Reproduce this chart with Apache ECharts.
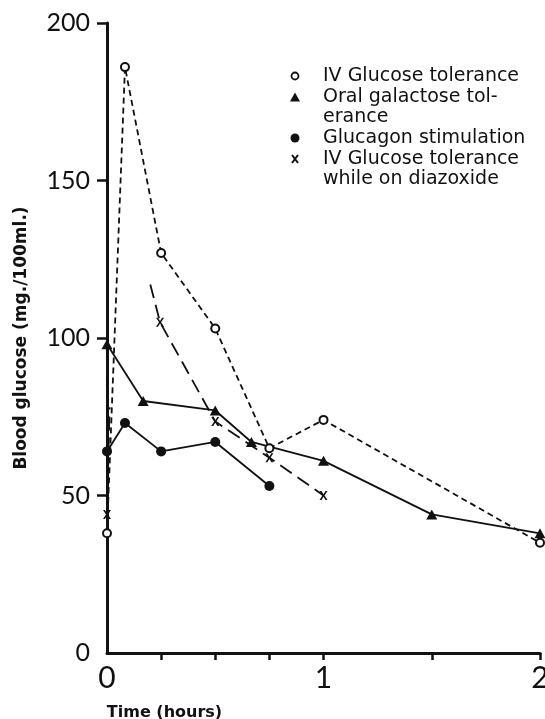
<!DOCTYPE html>
<html>
<head>
<meta charset="utf-8">
<script src="https://cdn.jsdelivr.net/npm/echarts@6/dist/echarts.min.js"></script>
<style>
  html, body { margin: 0; padding: 0; background: #fff; }
  #chart { width: 545px; height: 719px; }
</style>
</head>
<body>
<div id="chart"></div>
<script>
// values (time in hours, blood glucose in mg./100ml.)
var ivHours = [0, 0.083, 0.25, 0.5, 0.75, 1, 2];
var ivGlucose = [38, 186, 127, 103, 65, 74, 35];

var galHours = [0, 0.167, 0.5, 0.667, 1, 1.5, 2];
var galGlucose = [98, 80, 77, 67, 61, 44, 38];

var glucagonHours = [0, 0.083, 0.25, 0.5, 0.75];
var glucagonGlucose = [64, 73, 64, 67, 53];

// diazoxide curve is only partly drawn in the original: two pieces, some ends unmarked
var diazHours = [0, 0.012, 0.2, 0.245, 0.5, 0.75, 1];
var diazGlucose = [44, 78, 117, 105, 73.5, 62, 50];
var diazMarked = [true, false, false, true, true, true, true];
var diazBreakAfter = 1;

var xLabelValues = [0, 1, 2];
var xTickValues = [0.25, 0.5, 0.75, 1, 1.5, 2];
var yLabelValues = [0, 50, 100, 150, 200];
var yTickValues = [50, 100, 150, 200];

var seriesNames = [
    'IV Glucose tolerance',
    'Oral galactose tolerance',
    'Glucagon stimulation',
    'IV Glucose tolerance while on diazoxide'
];
var legendTexts = [
    'IV Glucose tolerance',
    'Oral galactose tol-\nerance',
    'Glucagon stimulation',
    'IV Glucose tolerance\nwhile on diazoxide'
];

var INK = '#111';
var NUM_FONT = 'Lato';
var TXT_FONT = 'DejaVu Sans';
var crossPath = 'path://M0,0L2.4,0L5,3.6L7.6,0L10,0L6.3,5L10,10L7.6,10L5,6.4L2.4,10L0,10L3.7,5Z';

function pairs(xs, ys) {
    return xs.map(function (x, i) { return [x, ys[i]]; });
}

function diazData() {
    var out = [];
    for (var i = 0; i < diazHours.length; i++) {
        var item = { value: [diazHours[i], diazGlucose[i]] };
        if (!diazMarked[i]) item.symbol = 'none';
        out.push(item);
        if (i === diazBreakAfter) out.push({ value: [diazHours[i], '-'] });
    }
    return out;
}

// hand-made key in the top right corner, like the printed figure
var keyX = 295, keyTextX = 323;
var keyRows = [76, 97, 138, 159];
function keyText(idx) {
    return {
        type: 'text',
        x: keyTextX,
        y: keyRows[idx] - 10.5,
        style: {
            text: legendTexts[idx],
            fill: INK,
            font: '19px "' + TXT_FONT + '"',
            lineHeight: 20.5,
            verticalAlign: 'top'
        }
    };
}
var keyGraphics = [
    { type: 'circle', shape: { cx: keyX, cy: keyRows[0], r: 3.5 },
      style: { fill: '#fff', stroke: INK, lineWidth: 1.8 } },
    { type: 'polygon', shape: { points: [[keyX - 5, keyRows[1] + 4.5], [keyX + 5, keyRows[1] + 4.5], [keyX, keyRows[1] - 4.5]] },
      style: { fill: INK } },
    { type: 'circle', shape: { cx: keyX, cy: keyRows[2], r: 4.5 }, style: { fill: INK } },
    { type: 'line', shape: { x1: keyX - 3, y1: keyRows[3] - 4, x2: keyX + 3, y2: keyRows[3] + 4 },
      style: { stroke: INK, lineWidth: 2 } },
    { type: 'line', shape: { x1: keyX + 3, y1: keyRows[3] - 4, x2: keyX - 3, y2: keyRows[3] + 4 },
      style: { stroke: INK, lineWidth: 2 } },
    keyText(0), keyText(1), keyText(2), keyText(3)
];

var myChart = echarts.init(document.getElementById('chart'));

var option = {
    backgroundColor: '#fff',
    animation: false,
    grid: { left: 107, right: 5, top: 23, bottom: 66, outerBoundsMode: 'none' },
    graphic: keyGraphics,
    xAxis: {
        type: 'value',
        min: 0,
        max: 2,
        interval: 0.25,
        name: 'Time (hours)',
        nameLocation: 'middle',
        nameGap: 52,
        nameTextStyle: {
            fontFamily: TXT_FONT,
            fontSize: 16,
            fontWeight: 'bold',
            color: INK,
            padding: [0, 318, 0, 0]
        },
        axisLine: { lineStyle: { color: INK, width: 3 } },
        axisTick: {
            customValues: xTickValues,
            length: 7,
            lineStyle: { color: INK, width: 2.5 }
        },
        axisLabel: {
            customValues: xLabelValues,
            margin: 10,
            fontFamily: NUM_FONT,
            fontSize: 30,
            color: INK
        },
        splitLine: { show: false }
    },
    yAxis: {
        type: 'value',
        min: 0,
        max: 200,
        interval: 50,
        name: 'Blood glucose (mg./100ml.)',
        nameLocation: 'middle',
        nameGap: 77,
        nameTextStyle: {
            fontFamily: TXT_FONT,
            fontSize: 17,
            fontWeight: 'bold',
            color: INK
        },
        axisLine: { show: true, lineStyle: { color: INK, width: 3 } },
        axisTick: {
            show: true,
            customValues: yTickValues,
            length: 10,
            lineStyle: { color: INK, width: 2.5 }
        },
        axisLabel: {
            customValues: yLabelValues,
            margin: 17,
            fontFamily: NUM_FONT,
            fontSize: 25,
            color: INK
        },
        splitLine: { show: false }
    },
    series: [{
        name: seriesNames[0],
        type: 'line',
        data: pairs(ivHours, ivGlucose),
        symbol: 'emptyCircle',
        symbolSize: 8,
        z: 4,
        itemStyle: { color: INK, borderWidth: 1.8 },
        lineStyle: { color: INK, width: 1.8, type: [6, 4] }
    }, {
        name: seriesNames[1],
        type: 'line',
        data: pairs(galHours, galGlucose),
        symbol: 'triangle',
        symbolSize: [11, 10],
        itemStyle: { color: INK },
        lineStyle: { color: INK, width: 1.8 }
    }, {
        name: seriesNames[2],
        type: 'line',
        data: pairs(glucagonHours, glucagonGlucose),
        symbol: 'circle',
        symbolSize: 10,
        itemStyle: { color: INK },
        lineStyle: { color: INK, width: 1.8 }
    }, {
        name: seriesNames[3],
        type: 'line',
        data: diazData(),
        connectNulls: false,
        symbol: crossPath,
        symbolSize: [8, 9],
        itemStyle: { color: INK },
        lineStyle: { color: INK, width: 1.8, type: [14, 7] }
    }]
};

myChart.setOption(option);
</script>
</body>
</html>
